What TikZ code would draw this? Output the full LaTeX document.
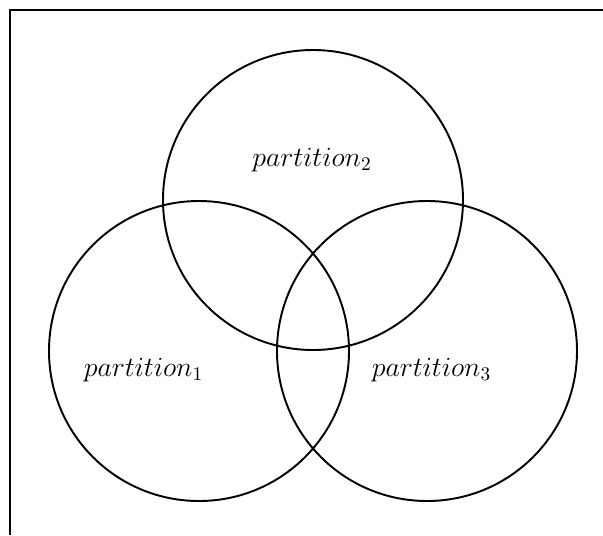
\documentclass[tikz,border=0pt]{standalone}
\usepackage{amsmath, amssymb}
\usepackage{tikz}

\begin{document}
\begin{tikzpicture}[x=1cm,y=1cm]
      \useasboundingbox (0,0) rectangle (12.06,-10.7);
      \draw[line width=0.6pt] (0.2,-10.7) -- (0.2,-0.2) -- (12.06,-0.2);
      \coordinate (c1) at (3.98,-7.02);
      \coordinate (c2) at (6.26,-4.0);
      \coordinate (c3) at (8.54,-7.02);
      \draw[line width=1.1pt] (c1) circle[radius=3];
      \draw[line width=1.1pt] (c2) circle[radius=3];
      \draw[line width=1.1pt] (c3) circle[radius=3];
      \node[scale=1.1] (p1) at (2.87,-7.4) {\Large $partition_1$};
      \node[scale=1.1] (p2) at (6.24,-3.2) {\Large $partition_2$};
      \node[scale=1.1] (p3) at (8.63,-7.4) {\Large $partition_3$};
    \end{tikzpicture}
\end{document}
